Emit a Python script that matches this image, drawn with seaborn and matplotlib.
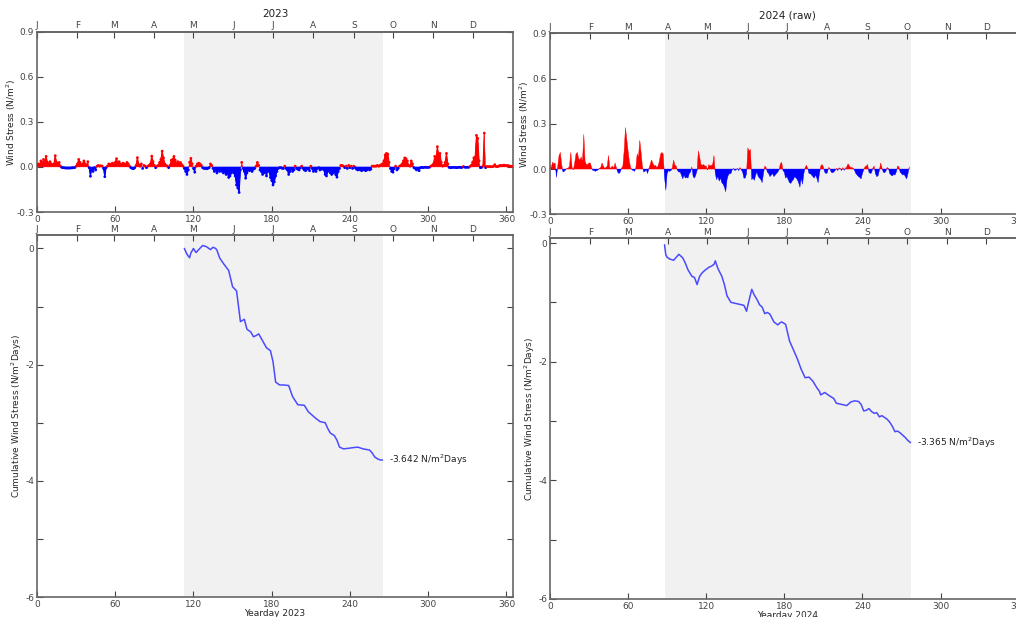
import numpy as np
import pandas as pd
import matplotlib
matplotlib.use("Agg")
import matplotlib.pyplot as plt
import seaborn as sns

# ---------------- data ----------------
# 2023 daily wind stress (N/m^2), yeardays 0..364
stress_2023 = [
    0.01, 0.02, 0.015, 0.04, 0.02, 0.05, 0.03, 0.07, 0.03, 0.02,
    0.035, 0.02, 0.015, 0.02, 0.075, 0.03, 0.02, 0.03, 0.005, -0.003,
    -0.005, -0.006, -0.007, -0.008, -0.007, -0.008, -0.007, -0.006, -0.005, -0.004,
    0.005, 0.02, 0.05, 0.03, 0.015, 0.02, 0.04, 0.02, 0.01, 0.035,
    -0.005, -0.062, -0.01, -0.03, -0.005, -0.02, 0.005, 0.01, 0.005, 0.008,
    0.005, -0.01, -0.065, -0.005, 0.005, 0.02, 0.01, 0.02, 0.025, 0.01,
    0.03, 0.055, 0.02, 0.035, 0.02, 0.015, 0.025, 0.02, 0.015, 0.03,
    0.02, 0.005, -0.005, -0.01, -0.012, -0.005, 0.01, 0.062, 0.015, 0.005,
    0.02, -0.01, 0.01, 0.005, -0.005, 0.005, 0.01, 0.02, 0.072, 0.035,
    0.01, -0.005, 0.005, 0.01, 0.03, 0.05, 0.105, 0.06, 0.02, 0.01,
    0.005, -0.005, 0.01, 0.045, 0.05, 0.07, 0.045, 0.02, 0.035, 0.025,
    0.03, 0.015, 0.005, -0.01, -0.03, -0.05, -0.02, 0.03, 0.057, 0.02,
    -0.01, -0.035, 0.005, 0.02, 0.025, 0.02, 0.01, -0.005, -0.01, -0.01,
    -0.012, -0.01, -0.005, 0.02, 0.01, -0.01, -0.03, -0.02, -0.04, -0.02,
    -0.03, -0.025, -0.03, -0.04, -0.03, -0.05, -0.04, -0.07, -0.06, -0.04,
    -0.03, -0.04, -0.06, -0.12, -0.14, -0.17, -0.02, 0.03, -0.01, -0.03,
    -0.075, -0.04, -0.02, -0.025, -0.02, -0.03, -0.015, -0.01, 0.005, 0.03,
    0.01, -0.02, -0.03, -0.05, -0.04, -0.03, -0.06, -0.02, -0.03, -0.07,
    -0.09, -0.12, -0.1, -0.06, -0.03, -0.01, -0.005, -0.005, -0.01, -0.01,
    0.005, -0.01, -0.02, -0.05, -0.03, -0.01, -0.03, -0.02, 0.005, -0.01,
    -0.015, -0.02, -0.005, 0.005, -0.01, -0.02, -0.025, -0.015, -0.01, -0.025,
    0.005, -0.01, -0.03, -0.02, -0.03, -0.01, -0.005, -0.02, -0.015, -0.01,
    -0.02, -0.05, -0.06, -0.03, -0.02, -0.04, -0.05, -0.04, -0.03, -0.05,
    -0.068, -0.03, -0.01, 0.01, 0.01, 0.005, -0.005, 0.005, -0.01, 0.01,
    -0.005, 0.005, -0.01, 0.005, -0.005, -0.015, -0.02, -0.015, -0.02, -0.025,
    -0.015, -0.02, -0.025, -0.02, -0.01, -0.02, -0.015, 0.005, 0.005, 0.005,
    0.005, 0.01, 0.005, 0.01, 0.015, 0.02, 0.04, 0.08, 0.09, 0.085,
    0.03, -0.01, -0.03, -0.035, -0.01, 0.005, -0.02, -0.01, 0.005, 0.01,
    0.02, 0.04, 0.06, 0.055, 0.04, 0.01, 0.005, 0.04, 0.02, -0.005,
    -0.01, -0.02, -0.01, -0.025, -0.005, -0.003, -0.005, -0.003, -0.002, -0.004,
    -0.003, -0.002, 0.005, 0.01, 0.02, 0.07, 0.05, 0.135, 0.08, 0.09,
    0.03, 0.005, 0.01, 0.03, 0.09, 0.02, -0.003, -0.005, -0.004, -0.003,
    -0.003, -0.004, -0.005, -0.003, -0.002, -0.004, -0.003, 0.003, -0.002, -0.003,
    -0.002, -0.003, 0.003, 0.01, 0.03, 0.06, 0.065, 0.21, 0.19, 0.04,
    -0.005, -0.003, 0.005, 0.225, -0.005, 0.003, 0.002, 0.003, 0.001, 0.002,
    0.003, 0.015, 0.003, 0.002, 0.005, 0.01, 0.008, 0.01, 0.012, 0.01,
    0.008, 0.01, 0.006, 0.005, 0.004,
]

# 2024 raw daily wind stress (N/m^2), yeardays 0..276
stress_2024 = [
    0.02, 0.01, 0.045, 0.035, 0.04, -0.055, 0.02, 0.09, 0.11, 0.03,
    -0.02, -0.015, -0.005, 0.005, 0.005, 0.02, 0.11, 0.01, -0.005, 0.04,
    0.1, 0.11, 0.07, 0.06, 0.08, 0.05, 0.23, 0.05, 0.03, 0.03,
    0.04, 0.04, 0.01, -0.01, -0.01, -0.015, -0.01, -0.005, 0.005, 0.01,
    0.04, 0.02, 0.005, 0.01, 0.02, 0.09, 0.005, 0.01, 0.02, 0.005,
    0.04, 0.01, -0.02, -0.03, -0.02, 0.005, 0.02, 0.12, 0.275, 0.2,
    0.12, 0.05, 0.01, -0.005, -0.01, -0.015, 0.01, 0.1, 0.08, 0.19,
    0.11, 0.02, -0.02, -0.015, -0.005, -0.03, 0.005, 0.03, 0.06, 0.04,
    0.02, 0.025, 0.01, 0.02, 0.05, 0.1, 0.11, 0.1, -0.05, -0.14,
    -0.03, -0.01, -0.015, -0.01, 0.01, 0.06, 0.025, 0.02, -0.01, -0.02,
    -0.02, -0.04, -0.065, -0.04, -0.06, -0.055, -0.06, -0.03, -0.02, 0.015,
    -0.05, -0.06, -0.04, -0.01, 0.12, 0.08, 0.03, 0.025, 0.03, 0.02,
    0.02, -0.005, 0.03, 0.02, 0.025, 0.03, 0.09, -0.03, -0.07, -0.05,
    -0.08, -0.06, -0.09, -0.1, -0.12, -0.15, -0.07, -0.04, -0.03, -0.03,
    -0.005, 0.005, -0.01, -0.005, 0.005, -0.01, 0.01, -0.005, -0.02, -0.06,
    -0.06, -0.03, 0.14, 0.12, 0.13, -0.07, -0.06, -0.075, -0.04, -0.02,
    -0.05, -0.06, -0.07, -0.09, -0.03, 0.02, 0.01, -0.02, -0.03, -0.05,
    -0.04, -0.03, -0.05, -0.04, -0.03, -0.02, -0.005, 0.035, 0.045, -0.01,
    -0.02, -0.06, -0.05, -0.07, -0.09, -0.095, -0.08, -0.07, -0.05, -0.06,
    -0.07, -0.09, -0.12, -0.06, -0.1, -0.03, 0.01, 0.025, 0.005, -0.03,
    -0.03, -0.04, -0.05, -0.06, -0.04, -0.06, -0.09, -0.03, 0.02, 0.03,
    0.015, -0.02, -0.03, -0.025, 0.01, 0.005, -0.02, -0.025, -0.02, -0.01,
    0.005, -0.01, 0.008, 0.005, -0.01, 0.01, -0.008, 0.005, 0.015, 0.035,
    0.02, 0.01, 0.01, 0.005, -0.01, -0.03, -0.04, -0.05, -0.055, -0.065,
    -0.03, -0.005, 0.015, 0.02, 0.03, -0.02, -0.03, -0.025, 0.005, 0.02,
    -0.03, -0.05, -0.045, -0.01, 0.04, 0.01, -0.02, -0.025, -0.015, 0.01,
    0.005, -0.03, -0.04, -0.045, -0.035, -0.04, -0.02, 0.02, 0.015, -0.02,
    -0.03, -0.04, -0.035, -0.05, -0.065, -0.03, 0.015,
]

# cumulative wind stress over the upwelling season (N/m^2 Days)
cum_days_2023 = [113, 115, 117, 118, 120, 121, 122, 124, 127, 130, 133, 135, 137, 138,
                 140, 143, 147, 150, 153, 154, 156, 159, 161, 164, 166, 168, 170, 173,
                 176, 179, 181, 183, 186, 189, 193, 196, 200, 205, 208, 213, 217, 221,
                 223, 225, 228, 230, 232, 235, 239, 242, 246, 250, 255, 257, 259, 261,
                 263, 265]
cum_vals_2023 = [0.0, -0.1, -0.16, -0.08, 0.0, -0.04, -0.07, -0.02, 0.05, 0.03, -0.02,
                 0.02, -0.0, -0.03, -0.16, -0.26, -0.38, -0.66, -0.73, -0.9, -1.26,
                 -1.22, -1.39, -1.44, -1.52, -1.5, -1.47, -1.59, -1.71, -1.76, -1.95,
                 -2.3, -2.35, -2.35, -2.36, -2.55, -2.69, -2.7, -2.81, -2.91, -2.98,
                 -3.0, -3.1, -3.18, -3.22, -3.3, -3.42, -3.45, -3.44, -3.43, -3.42,
                 -3.45, -3.47, -3.52, -3.59, -3.62, -3.64, -3.642]

cum_days_2024 = [88, 89, 90, 92, 95, 99, 102, 104, 106, 109, 111, 113, 115, 117, 119,
                 122, 124, 126, 127, 129, 132, 134, 136, 139, 143, 147, 149, 151, 152,
                 155, 157, 159, 161, 163, 165, 167, 169, 172, 175, 177, 178, 181, 184,
                 187, 190, 193, 196, 199, 202, 205, 207, 208, 211, 213, 215, 218, 220,
                 224, 228, 231, 234, 237, 239, 241, 243, 245, 247, 249, 251, 253, 255,
                 257, 259, 261, 263, 265, 267, 269, 271, 273, 275, 277]
cum_vals_2024 = [-0.03, -0.2, -0.24, -0.27, -0.29, -0.19, -0.25, -0.34, -0.45, -0.56,
                 -0.58, -0.7, -0.56, -0.5, -0.46, -0.41, -0.39, -0.36, -0.3, -0.43,
                 -0.56, -0.7, -0.89, -1.0, -1.02, -1.04, -1.05, -1.15, -1.05, -0.78,
                 -0.88, -0.95, -1.04, -1.08, -1.19, -1.17, -1.2, -1.33, -1.38, -1.34,
                 -1.33, -1.37, -1.65, -1.8, -1.95, -2.13, -2.27, -2.26, -2.33, -2.44,
                 -2.5, -2.56, -2.52, -2.55, -2.58, -2.62, -2.7, -2.72, -2.74, -2.68,
                 -2.66, -2.67, -2.72, -2.83, -2.82, -2.79, -2.84, -2.87, -2.86, -2.93,
                 -2.91, -2.94, -2.97, -3.02, -3.09, -3.18, -3.17, -3.2, -3.24, -3.28,
                 -3.33, -3.365]

season_2023 = (113, 265)
season_2024 = (88, 277)

month_letters = ["J", "F", "M", "A", "M", "J", "J", "A", "S", "O", "N", "D"]
month_starts_2023 = [0, 31, 59, 90, 120, 151, 181, 212, 243, 273, 304, 334]
month_starts_2024 = [0, 31, 60, 91, 121, 152, 182, 213, 244, 274, 305, 335]
day_ticks = [0, 60, 120, 180, 240, 300, 360]

# ---------------- style ----------------
sns.set_style("white")
plt.rcParams["font.family"] = ["DejaVu Sans"]
plt.rcParams["axes.edgecolor"] = "#666666"
plt.rcParams["axes.linewidth"] = 1.2
plt.rcParams["xtick.color"] = "#444444"
plt.rcParams["ytick.color"] = "#444444"
plt.rcParams["text.color"] = "#222222"

FS = 6.5
SHADE = "#f1f1f1"
CUMCOL = "#4a4aff"

fig = plt.figure(figsize=(10.16, 6.17), dpi=100)

ax_tl = fig.add_axes([0.0364, 0.6564, 0.4685, 0.2922])
ax_bl = fig.add_axes([0.0364, 0.0324, 0.4685, 0.5866])
ax_tr = fig.add_axes([0.5413, 0.6527, 0.4677, 0.2933])
ax_br = fig.add_axes([0.5413, 0.0292, 0.4677, 0.5846])


def style_axis(ax, month_starts, yticks, ylabels):
    ax.set_xlim(0, 365)
    ax.set_xticks(day_ticks)
    ax.set_xticklabels([str(t) for t in day_ticks], fontsize=FS)
    ax.set_yticks(yticks)
    ax.set_yticklabels(ylabels, fontsize=FS)
    ax.tick_params(axis="both", direction="in", length=4, width=0.8, pad=2,
                   right=True, left=True, bottom=True, top=False)
    sec = ax.secondary_xaxis("top")
    sec.set_xticks(month_starts)
    sec.set_xticklabels(month_letters, fontsize=FS)
    sec.tick_params(direction="in", length=4, width=0.8, pad=1)
    for sp in ax.spines.values():
        sp.set_color("#666666")
    return sec


def draw_stress(ax, values, season, title, markers):
    v = np.asarray(values, dtype=float)
    d = np.arange(len(v))
    ax.axvspan(season[0], season[1], color=SHADE, lw=0, zorder=0)
    ax.fill_between(d, v, 0, where=v >= 0, interpolate=True, color="#ff0000", lw=0.3, zorder=2)
    ax.fill_between(d, v, 0, where=v < 0, interpolate=True, color="#0000ff", lw=0.3, zorder=2)
    if markers:
        pos = np.ma.masked_where(v < 0, v)
        neg = np.ma.masked_where(v >= 0, v)
        ax.plot(d, pos, color="#ff0000", lw=0.8, zorder=3)
        ax.plot(d, neg, color="#0000ff", lw=0.8, zorder=3)
        df = pd.DataFrame({"day": d, "stress": v,
                           "sign": np.where(v >= 0, "pos", "neg")})
        sns.scatterplot(data=df, x="day", y="stress", hue="sign",
                        palette={"pos": "#ff0000", "neg": "#0000ff"},
                        s=4, marker="o", linewidth=0, legend=False, ax=ax, zorder=4)
    ax.set_ylim(-0.3, 0.9)
    ax.set_xlabel("")
    ax.set_ylabel("Wind Stress (N/m$^2$)", fontsize=FS, labelpad=-1)
    ax.set_title(title, fontsize=7.5, pad=3)


def draw_cum(ax, days, vals, season, year, ytop):
    ax.axvspan(season[0], season[1], color=SHADE, lw=0, zorder=0)
    df = pd.DataFrame({"day": days, "cum": vals})
    sns.lineplot(data=df, x="day", y="cum", color=CUMCOL, lw=1.1, ax=ax, zorder=3)
    ax.set_ylim(-6, ytop)
    ax.text(days[-1] + 5, vals[-1], f"{vals[-1]:.3f} N/m$^2$Days",
            fontsize=FS, va="center", ha="left")
    ax.set_xlabel(f"Yearday {year}", fontsize=FS, labelpad=0)
    ax.set_ylabel("Cumulative Wind Stress (N/m$^2$Days)", fontsize=FS, labelpad=1)


stress_ticks = [-0.3, 0.0, 0.3, 0.6, 0.9]
stress_labels = ["-0.3", "0.0", "0.3", "0.6", "0.9"]
cum_ticks = [-6, -5, -4, -3, -2, -1, 0]
cum_labels = ["-6", "", "-4", "", "-2", "", "0"]

draw_stress(ax_tl, stress_2023, season_2023, "2023", markers=True)
style_axis(ax_tl, month_starts_2023, stress_ticks, stress_labels)

draw_stress(ax_tr, stress_2024, season_2024, "2024 (raw)", markers=False)
style_axis(ax_tr, month_starts_2024, stress_ticks, stress_labels)

draw_cum(ax_bl, cum_days_2023, cum_vals_2023, season_2023, 2023, 0.23)
style_axis(ax_bl, month_starts_2023, cum_ticks, cum_labels)

draw_cum(ax_br, cum_days_2024, cum_vals_2024, season_2024, 2024, 0.08)
style_axis(ax_br, month_starts_2024, cum_ticks, cum_labels)

fig.savefig("out.png", dpi=100)
